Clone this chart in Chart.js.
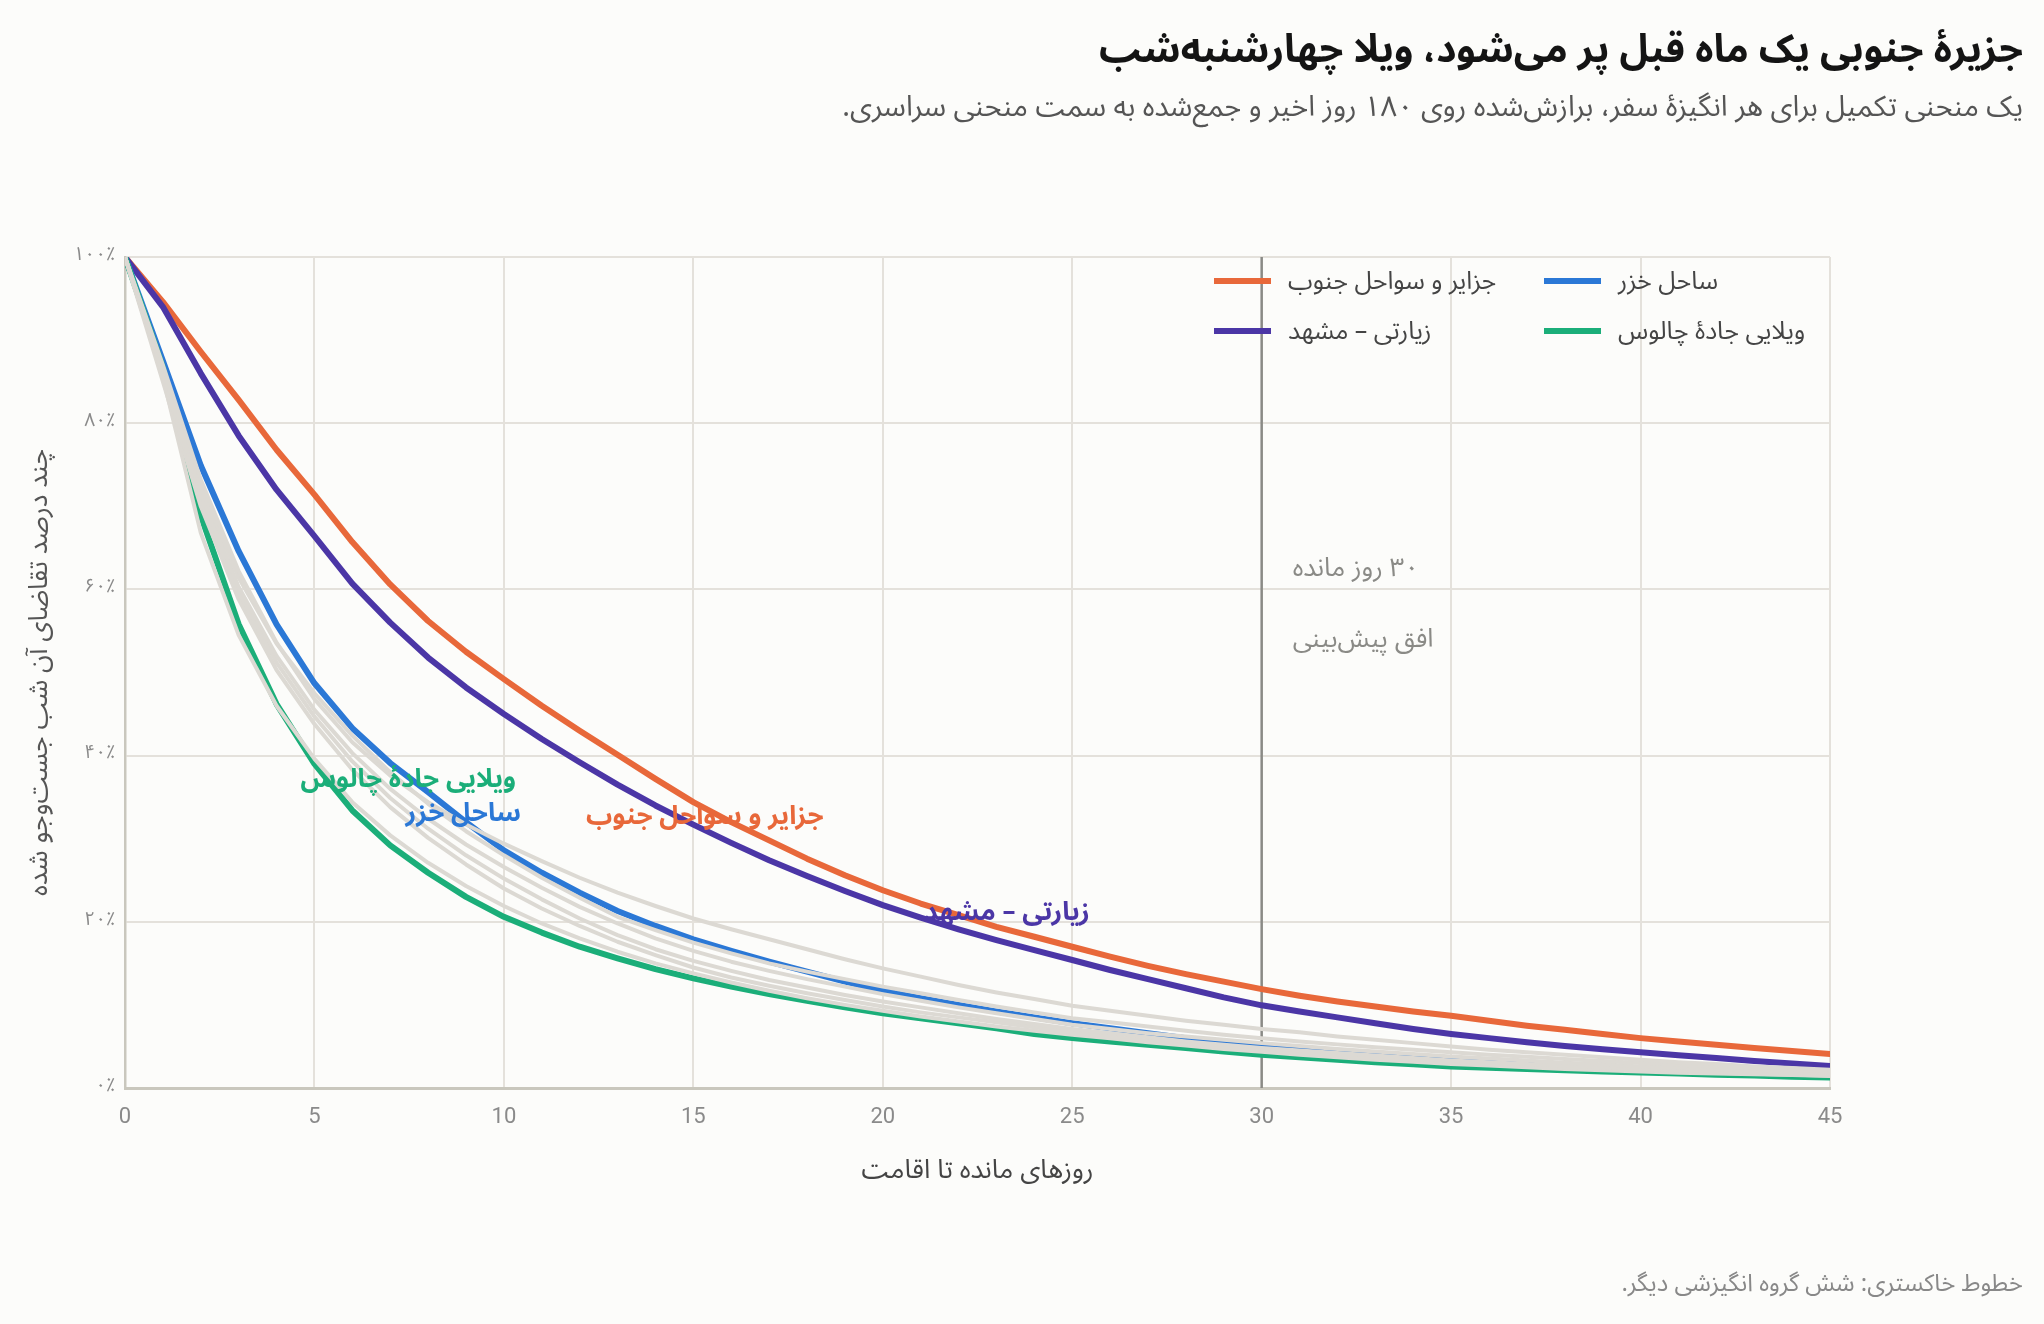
<!DOCTYPE html>
<html lang="fa">
<head>
<meta charset="utf-8">
<script src="https://cdn.jsdelivr.net/npm/chart.js@4.4.1/dist/chart.umd.min.js"></script>
<style>
html,body{margin:0;padding:0;background:#fcfcfa;width:2044px;height:1324px;overflow:hidden;}
#wrap{position:relative;width:2044px;height:1324px;}
#c{position:absolute;left:0;top:0;}
.fa{font-family:"Noto Sans Arabic","Vazirmatn","Noto Sans","DejaVu Sans",sans-serif;}
.txt{position:absolute;direction:rtl;white-space:nowrap;}
#title{right:21px;top:24px;font-size:39px;font-weight:700;color:#141414;line-height:52px;}
#subtitle{right:21px;top:90px;font-size:28.8px;color:#555;line-height:34px;}
#footer{right:21px;top:1269px;font-size:24px;color:#888;line-height:30px;}
.leg{position:absolute;display:flex;align-items:center;direction:ltr;white-space:nowrap;}
.sw{width:57px;height:6px;margin-right:17px;}
.lt{font-size:25px;color:#444;direction:rtl;line-height:30px;}
</style>
</head>
<body>
<div id="wrap">
<canvas id="c" width="2044" height="1324"></canvas>
<div id="title" class="txt fa">جزیرهٔ جنوبی یک ماه قبل پر می‌شود، ویلا چهارشنبه‌شب</div>
<div id="subtitle" class="txt fa">یک منحنی تکمیل برای هر انگیزهٔ سفر، برازش‌شده روی ۱۸۰ روز اخیر و جمع‌شده به سمت منحنی سراسری.</div>
<div id="footer" class="txt fa">خطوط خاکستری: شش گروه انگیزشی دیگر.</div>
<div id="legend"></div>
</div>
<script>
// ---------- data ----------
const days = [0,1,2,3,4,5,6,7,8,9,10,11,12,13,14,15,16,17,18,19,20,21,22,23,24,25,26,27,28,29,30,31,32,33,34,35,36,37,38,39,40,41,42,43,44,45];

const seriesNames = ['جزایر و سواحل جنوب','ساحل خزر','زیارتی – مشهد','ویلایی جادهٔ چالوس'];

const southIslands = [100,94.6,88.6,82.8,76.8,71.4,65.7,60.6,56.2,52.5,49.2,46.0,43.0,40.1,37.2,34.4,32.0,29.8,27.6,25.6,23.8,22.2,20.8,19.4,18.2,17.0,15.8,14.7,13.7,12.8,11.9,11.1,10.4,9.8,9.2,8.7,8.1,7.5,7.0,6.5,6.0,5.6,5.2,4.8,4.45,4.1];
const caspianCoast = [100,87.5,74.9,64.6,55.8,48.7,43.3,39.1,35.6,32.0,28.6,25.9,23.5,21.3,19.5,17.9,16.5,15.2,14.0,12.8,11.7,10.8,10.0,9.2,8.5,7.8,7.2,6.6,6.0,5.45,4.95,4.6,4.25,3.9,3.6,3.3,3.05,2.8,2.55,2.3,2.1,1.95,1.8,1.7,1.6,1.5];
const pilgrimMashhad = [100,94.0,86.0,78.5,72.0,66.4,60.7,56.0,51.8,48.2,45.0,42.0,39.2,36.5,34.0,31.7,29.5,27.4,25.5,23.7,22.0,20.5,19.1,17.8,16.6,15.4,14.2,13.1,12.0,10.9,9.95,9.2,8.5,7.8,7.1,6.5,6.0,5.5,5.05,4.65,4.3,3.95,3.6,3.25,2.95,2.65];
const chalusVilla = [100,86.7,68.9,55.8,46.2,39.0,33.4,29.2,25.9,23.0,20.6,18.7,17.0,15.6,14.3,13.2,12.2,11.3,10.5,9.7,9.0,8.4,7.8,7.2,6.5,6.0,5.6,5.2,4.8,4.4,4.0,3.7,3.4,3.1,2.85,2.6,2.45,2.3,2.15,2.0,1.85,1.75,1.6,1.5,1.35,1.25];

const otherGroup1 = [100,87.0,73.2,62.2,53.6,46.8,41.6,37.6,34.4,31.7,29.4,27.3,25.3,23.5,21.9,20.4,19.1,17.9,16.7,15.5,14.4,13.4,12.4,11.5,10.7,9.9,9.3,8.7,8.1,7.6,7.1,6.7,6.2,5.8,5.4,5.0,4.6,4.3,4.0,3.7,3.4,3.1,2.9,2.6,2.4,2.2];
const otherGroup2 = [100,86.5,72.4,61.4,53.5,47.5,42.4,38.0,34.2,30.9,28.0,25.3,22.9,20.6,19.0,17.5,16.2,15.0,14.0,13.1,12.2,11.4,10.6,9.8,9.1,8.4,7.9,7.4,6.9,6.4,6.0,5.6,5.25,4.9,4.6,4.3,4.0,3.75,3.5,3.25,3.0,2.8,2.6,2.4,2.2,2.0];
const otherGroup3 = [100,86.0,71.5,60.3,52.0,45.5,40.3,36.0,32.4,29.3,26.6,24.1,21.8,19.8,18.0,16.5,15.2,14.1,13.1,12.2,11.3,10.5,9.7,9.0,8.3,7.6,7.1,6.6,6.2,5.8,5.4,5.05,4.7,4.4,4.1,3.8,3.55,3.3,3.05,2.85,2.6,2.45,2.3,2.1,1.95,1.8];
const otherGroup4 = [100,85.5,70.8,59.6,51.2,44.7,39.3,34.9,31.2,28.0,25.2,22.7,20.4,18.4,16.7,15.3,14.1,13.0,12.1,11.2,10.4,9.7,9.0,8.3,7.7,7.1,6.6,6.1,5.6,5.2,4.8,4.5,4.2,3.9,3.6,3.3,3.1,2.9,2.7,2.5,2.3,2.15,2.0,1.85,1.7,1.6];
const otherGroup5 = [100,85.0,70.0,58.8,50.3,43.8,38.3,33.8,30.1,26.9,24.0,21.6,19.5,17.6,16.0,14.5,13.3,12.3,11.4,10.6,9.8,9.1,8.5,7.9,7.3,6.7,6.2,5.7,5.3,4.9,4.5,4.2,3.9,3.6,3.35,3.1,2.9,2.7,2.5,2.3,2.15,2.0,1.85,1.7,1.6,1.5];
const otherGroup6 = [100,85.5,66.8,54.5,46.0,39.6,34.4,30.4,27.1,24.3,21.9,19.8,18.0,16.4,15.0,13.8,12.7,11.7,10.8,10.0,9.3,8.6,8.0,7.4,6.9,6.4,6.0,5.5,5.1,4.7,4.35,4.0,3.7,3.4,3.15,2.9,2.7,2.5,2.3,2.15,2.0,1.85,1.75,1.65,1.55,1.45];

const xTickValues = [0,5,10,15,20,25,30,35,40,45];
const xTickLabels = ['0','5','10','15','20','25','30','35','40','45'];
const yTickValues = [0,20,40,60,80,100];
const yTickLabels = ['۰٪','۲۰٪','۴۰٪','۶۰٪','۸۰٪','۱۰۰٪'];

const horizonDay = 30;
const horizonLines = ['۳۰ روز مانده','افق پیش‌بینی'];
const xAxisTitle = 'روزهای مانده تا اقامت';
const yAxisTitle = 'چند درصد تقاضای آن شب جست‌وجو شده';

// ---------- styling ----------
const FA = '"Noto Sans Arabic","Vazirmatn","Noto Sans","DejaVu Sans",sans-serif';
const colors = {south:'#e8683a', caspian:'#2b78d6', mashhad:'#4b36a6', chalus:'#1bae79', gray:'#dcd9d3'};

const toPts = arr => arr.map((v,i)=>({x:days[i], y:v}));
const grayDs = [otherGroup1,otherGroup2,otherGroup3,otherGroup4,otherGroup5,otherGroup6].map((a,i)=>({
  label:'other'+(i+1), data:toPts(a), borderColor:colors.gray, borderWidth:4, pointRadius:0, tension:0,
  borderJoinStyle:'round', borderCapStyle:'round'
}));
const mainDefs = [
  {name:seriesNames[3], data:chalusVilla, color:colors.chalus},
  {name:seriesNames[1], data:caspianCoast, color:colors.caspian},
  {name:seriesNames[2], data:pilgrimMashhad, color:colors.mashhad},
  {name:seriesNames[0], data:southIslands, color:colors.south}
];
const mainDs = mainDefs.map(d=>({
  label:d.name, data:toPts(d.data), borderColor:d.color, borderWidth:6, pointRadius:0, tension:0,
  borderJoinStyle:'round', borderCapStyle:'round'
}));

// inline label anchors (day, percent) – right edge of text
const lineLabelSpots = [
  {text:seriesNames[3], color:colors.chalus, x:10.32, y:36.7},
  {text:seriesNames[1], color:colors.caspian, x:10.45, y:32.6},
  {text:seriesNames[0], color:colors.south, x:18.44, y:32.25},
  {text:seriesNames[2], color:colors.mashhad, x:25.46, y:20.7}
];

const overlay = {
  id:'overlay',
  beforeDatasetsDraw(chart){
    const {ctx, chartArea, scales:{x}} = chart;
    const px = x.getPixelForValue(horizonDay);
    ctx.save();
    ctx.strokeStyle = '#8a8a86';
    ctx.lineWidth = 2.5;
    ctx.beginPath(); ctx.moveTo(px, chartArea.top); ctx.lineTo(px, chartArea.bottom); ctx.stroke();
    ctx.restore();
  },
  afterDatasetsDraw(chart){
    const {ctx, scales:{x,y}} = chart;
    ctx.save();
    ctx.direction = 'rtl';
    ctx.textBaseline = 'middle';
    ctx.font = '26px ' + FA;
    ctx.fillStyle = '#8a8a86';
    ctx.textAlign = 'left';
    const hx = x.getPixelForValue(horizonDay) + 31;
    ctx.fillText(horizonLines[0], hx, y.getPixelForValue(62.1));
    ctx.fillText(horizonLines[1], hx, y.getPixelForValue(53.5));
    ctx.font = 'bold 26px ' + FA;
    ctx.textAlign = 'right';
    lineLabelSpots.forEach(l=>{
      ctx.fillStyle = l.color;
      ctx.fillText(l.text, x.getPixelForValue(l.x), y.getPixelForValue(l.y));
    });
    ctx.restore();
  }
};

new Chart(document.getElementById('c'), {
  type:'line',
  data:{datasets:[...grayDs, ...mainDs]},
  options:{
    responsive:false, animation:false, devicePixelRatio:1,
    layout:{padding:{left:0, top:257, right:214, bottom:0}},
    plugins:{legend:{display:false}, tooltip:{enabled:false}},
    scales:{
      x:{
        type:'linear', min:0, max:45,
        afterFit(s){ s.height = 236; },
        afterBuildTicks(s){ s.ticks = xTickValues.map(v=>({value:v})); },
        ticks:{ color:'#8a8a8a', font:{family:'Roboto', size:22}, padding:16,
          callback:(v)=>xTickLabels[xTickValues.indexOf(v)] },
        grid:{ color:'#e4e1db', lineWidth:2, drawTicks:false },
        border:{ color:'#c9c7bd', width:3 },
        title:{ display:true, text:xAxisTitle, color:'#444', font:{family:FA, size:26.5}, padding:{top:0,bottom:134} }
      },
      y:{
        min:0, max:100,
        afterFit(s){ s.width = 125; },
        afterBuildTicks(s){ s.ticks = yTickValues.map(v=>({value:v})); },
        ticks:{ color:'#8a8a8a', font:{family:FA, size:19}, padding:10,
          callback:(v)=>yTickLabels[yTickValues.indexOf(v)] },
        grid:{ color:'#e4e1db', lineWidth:2, drawTicks:false },
        border:{ color:'#c9c7bd', width:2.5 },
        title:{ display:true, text:yAxisTitle, color:'#555', font:{family:FA, size:26.5}, padding:{top:27,bottom:0} }
      }
    }
  },
  plugins:[overlay]
});

// ---------- legend (HTML) ----------
const legendItems = [
  {name:seriesNames[0], color:colors.south, left:1214, top:281},
  {name:seriesNames[1], color:colors.caspian, left:1544, top:281},
  {name:seriesNames[2], color:colors.mashhad, left:1214, top:331},
  {name:seriesNames[3], color:colors.chalus, left:1544, top:331}
];
const lg = document.getElementById('legend');
legendItems.forEach(it=>{
  const d = document.createElement('div');
  d.className = 'leg';
  d.style.left = it.left + 'px';
  d.style.top = (it.top - 15) + 'px';
  d.innerHTML = '<span class="sw" style="background:'+it.color+'"></span><span class="lt fa">'+it.name+'</span>';
  lg.appendChild(d);
});
</script>
</body>
</html>
